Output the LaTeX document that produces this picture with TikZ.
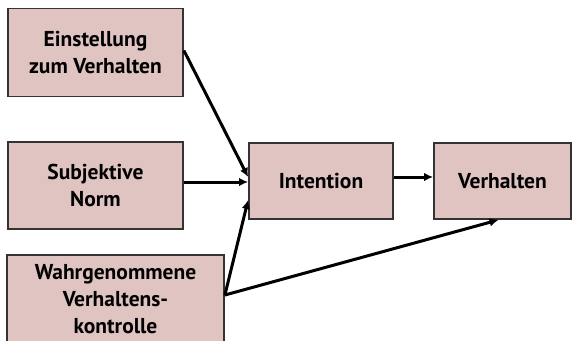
\documentclass[tikz,border=0pt]{standalone}
\usepackage{fontspec}
\setmainfont{PT Sans}
\usetikzlibrary{positioning}
\usetikzlibrary{arrows.meta}
\definecolor{boxfill}{RGB}{223,196,193}
\definecolor{boxline}{RGB}{55,50,50}
\tikzstyle{box}=[rectangle,draw=boxline,fill=boxfill,line width=1.8pt,align=center,inner sep=2pt,font=\fontsize{21.5}{27}\selectfont\bfseries]
\tikzstyle{edge} = [draw,line width=3pt,-{Latex[length=9pt,width=8.5pt]}]

\begin{document}
\begin{tikzpicture}[x=1pt,y=-1pt]
\useasboundingbox (0,0) rectangle (572,340);

    % First we draw the boxes
    \foreach \pos/\name/\w/\h/\label in {{(95.5,52.5)/einst/175/88/Einstellung\\zum Verhalten}, {(95.5,185.5)/norm/175/87/Subjektive\\Norm}, {(321,181)/intent/144/76/Intention}, {(502.5,181)/verh/137/76/Verhalten}}
        \node[box, minimum width=\w, minimum height=\h] (\name) at \pos {\label};
    \node[box, minimum width=217, inner ysep=10pt, anchor=north] (kontr) at (115.5,254) {Wahrgenommene\\Verhaltens-\\kontrolle\\\mbox{}};

    % Connect boxes with arrows
    \path[edge] ([yshift=2]einst.east) -- ([yshift=4]intent.west);
    \path[edge] ([yshift=3.5]norm.east) -- ([yshift=-1]intent.west);
    \path[edge] (kontr.east|-0,295) -- ([yshift=-19]intent.west);
    \path[edge] (kontr.east|-0,295) -- ([xshift=-4]verh.south);
    \path[edge] ([yshift=4]intent.east) -- ([yshift=4]verh.west);

\end{tikzpicture}
\end{document}
